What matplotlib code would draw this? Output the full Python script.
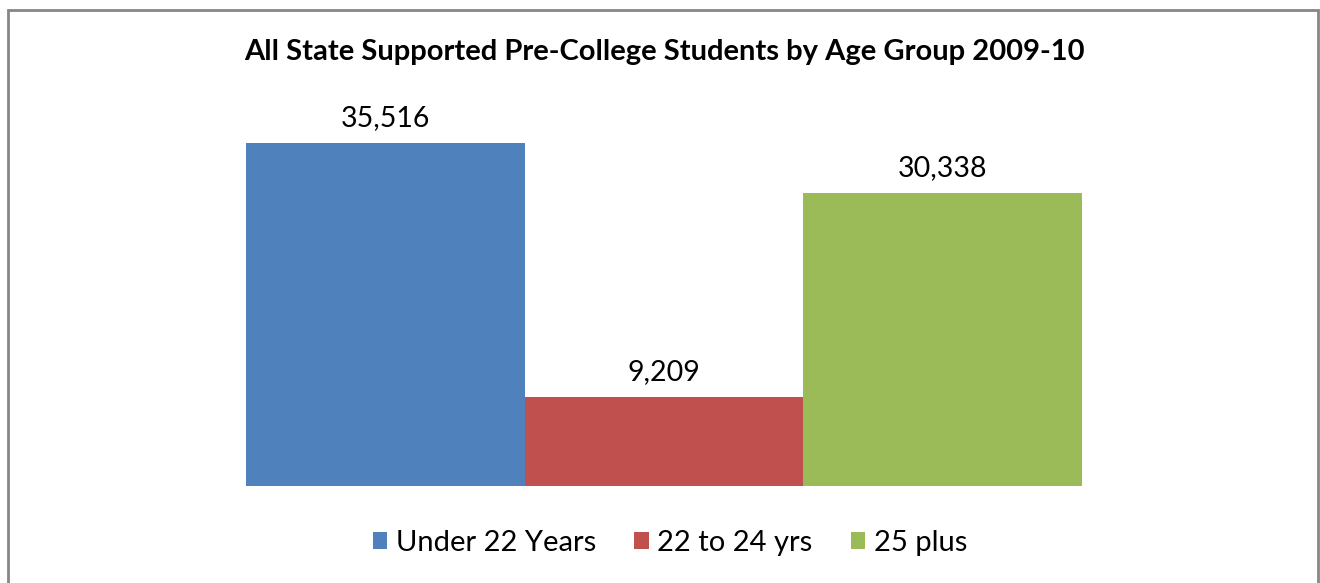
import matplotlib.pyplot as plt
from matplotlib.patches import Rectangle

plt.rcParams["font.family"] = ["Lato", "DejaVu Sans"]

categories = ["Under 22 Years", "22 to 24 yrs", "25 plus"]
values = [35516, 9209, 30338]
colors = ["#4f81bd", "#c0504d", "#9bbb59"]
title = "All State Supported Pre-College Students by Age Group 2009-10"

fig = plt.figure(figsize=(13.2, 5.83), dpi=100)
ax = fig.add_axes([246 / 1320, 1 - 486 / 583, (1082 - 246) / 1320, (486 - 100) / 583])

positions = list(range(len(values)))
bars = ax.bar(positions, values, width=1.0, color=colors, label=categories)
for bar, v in zip(bars, values):
    ax.text(bar.get_x() + bar.get_width() / 2, v + 1300, "{:,}".format(v),
            ha="center", va="bottom", fontsize=20.5)

ax.set_xlim(-0.5, 2.5)
ax.set_ylim(0, 40000)
ax.axis("off")

fig.text(664 / 1320, 1 - 52 / 583, title, ha="center", va="center",
         fontsize=21, fontweight="bold")

fig.legend(bars, categories, loc="center", bbox_to_anchor=(670 / 1320, 1 - 543 / 583),
           ncol=3, frameon=False, fontsize=21, handlelength=0.5, handleheight=0.5,
           handletextpad=0.3, columnspacing=1.3)

# outer chart border
fig.patches.append(Rectangle((8 / 1320, -0.1), (1318 - 8) / 1320, 1.1 - 10 / 583,
                             transform=fig.transFigure, fill=False,
                             edgecolor="#868686", linewidth=2))

fig.savefig("out.png", dpi=100)
